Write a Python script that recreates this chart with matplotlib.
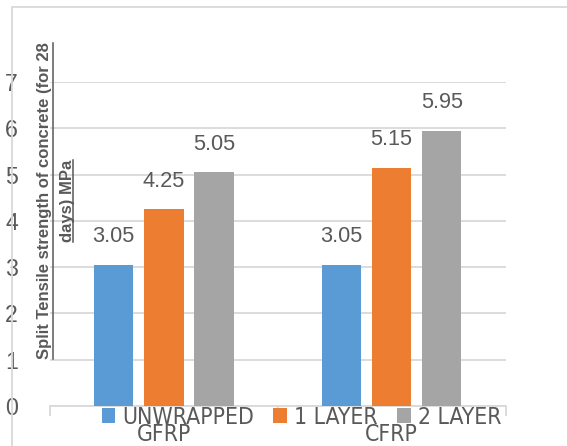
import matplotlib
matplotlib.use("Agg")
import matplotlib.pyplot as plt
from matplotlib import font_manager
from matplotlib.font_manager import FontProperties
from matplotlib.patches import Rectangle
from matplotlib.lines import Line2D
import numpy as np

"""
data
"""
categories = ["GFRP", "CFRP"]
series = ["UNWRAPPED", "1 LAYER", "2 LAYER"]
unwrapped = [3.05, 3.05]
one_layer = [4.25, 5.15]
two_layer = [5.05, 5.95]
colors = ["#5B9BD5", "#ED7D31", "#A5A5A5"]
ylabel_lines = ["Split Tensile strength of concrete (for 28", "days) MPa"]

# condensed face for the words if one is around
cond = [f for f in font_manager.fontManager.ttflist
        if f.name == "DejaVu Sans" and f.stretch not in ("normal", 500)
        and f.weight in ("normal", 400) and f.style == "normal"]
if cond:
    word_font = FontProperties(fname=cond[0].fname, size=16.5)
else:
    word_font = FontProperties(family="Liberation Sans", size=14.6)

txt = "#595959"
grid_c = "#D9D9D9"

W, H = 567, 446
fig = plt.figure(figsize=(W / 100, H / 100), dpi=100)

# outer chart frame (runs past the right and bottom edges)
fig.patches.append(Rectangle((12 / W, -0.1), 1.2, (H - 7) / H + 0.1,
                             transform=fig.transFigure, fill=False,
                             edgecolor=grid_c, linewidth=1.3))

ax = fig.add_axes([50 / W, 40 / H, 455.5 / W, 324 / H])

x = np.arange(len(categories))
w = 0.173
step = 0.22
for i, (vals, name) in enumerate(zip([unwrapped, one_layer, two_layer], series)):
    bars = ax.bar(x + (i - 1) * step, vals, w, color=colors[i], label=name, zorder=3)
    for b, v in zip(bars, vals):
        ax.text(b.get_x() + b.get_width() / 2, v + 0.38, "%.2f" % v,
                ha="center", va="bottom", fontsize=15.7, color=txt,
                family="Liberation Sans", clip_on=False)

ax.set_ylim(0, 7)
ax.set_xlim(-0.5, 1.5)
ax.set_yticks(range(0, 8))
ax.yaxis.grid(True, color=grid_c, linewidth=1.3, zorder=0)
ax.set_axisbelow(True)
for s in ["left", "right", "top"]:
    ax.spines[s].set_visible(False)
ax.spines["bottom"].set_color(grid_c)
ax.spines["bottom"].set_linewidth(1.3)
ax.tick_params(axis="y", length=0, pad=23, labelsize=16.7, labelcolor=txt)
for t in ax.get_yticklabels():
    t.set_family("Liberation Sans")

# category labels sit under the legend, tick marks on the boundaries
ax.set_xticks(x)
ax.set_xticklabels(categories, fontproperties=word_font, color=txt)
ax.tick_params(axis="x", length=0, pad=12.5)
ax.set_xticks([-0.5, 0.5, 1.5], minor=True)
ax.tick_params(axis="x", which="minor", length=7, width=1.3, color=grid_c)

leg = ax.legend(loc="center", bbox_to_anchor=(0.552, -11 / 324), ncol=3,
                frameon=False, handlelength=0.6, handleheight=0.6,
                handletextpad=0.3, columnspacing=0.85,
                prop=word_font, borderaxespad=0, borderpad=0)
for t in leg.get_texts():
    t.set_color(txt)

# y label: two rotated lines, each underlined
ylab = []
for xp, line in zip([45, 67.5], ylabel_lines):
    ylab.append(fig.text(xp / W, 1 - 201 / H, line, rotation=90, ha="center",
                         va="center", fontsize=12, fontweight="bold", color=txt,
                         family="Liberation Sans"))
r = fig.canvas.get_renderer()
for t, ux in zip(ylab, [52.7, 72.7]):
    bb = t.get_window_extent(r)
    fig.lines.append(Line2D([ux / W, ux / W], [bb.y0 / H, bb.y1 / H],
                            transform=fig.transFigure, color=txt, linewidth=1.1))

fig.savefig("out.png", dpi=100)
